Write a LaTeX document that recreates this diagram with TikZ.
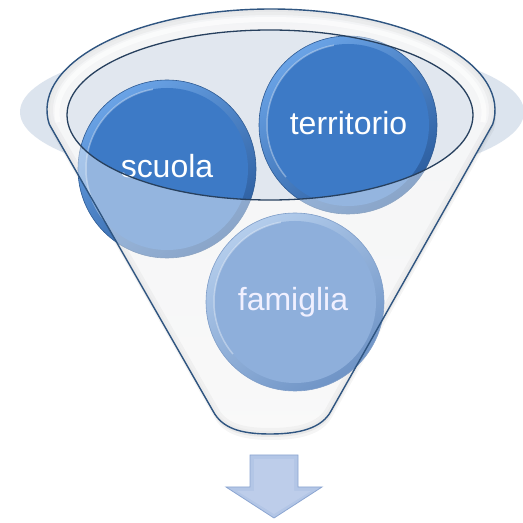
\documentclass[tikz,border=0pt]{standalone}
\usepackage{fontspec}
\setmainfont{Liberation Sans}
\definecolor{bgc}{HTML}{DCE4EE}
\definecolor{innerc}{HTML}{E1E7EF}
\definecolor{funtop}{HTML}{EAECEF}
\definecolor{funbot}{HTML}{F5F5F5}
\definecolor{bluelight}{HTML}{6AA3E6}
\definecolor{bluedark}{HTML}{2A5C9E}
\definecolor{bluemain}{HTML}{3D7AC6}
\definecolor{blueedge}{HTML}{2D5A93}
\definecolor{palelight}{HTML}{B4CDEC}
\definecolor{paledark}{HTML}{6F94C6}
\definecolor{palemain}{HTML}{8EAFDB}
\definecolor{paleedge}{HTML}{7E9DC8}
\definecolor{outline}{HTML}{2F5581}
\definecolor{inline}{HTML}{27405E}
\definecolor{arrowfill}{HTML}{B3C6E6}
\definecolor{arrowin}{HTML}{BDCDEA}
\definecolor{arrowedge}{HTML}{8CA6D2}
\tikzset{
  bubble/.style={circle, inner sep=0pt, minimum size=178pt, draw=blueedge, line width=0.6pt,
    shading=axis, top color=bluelight, bottom color=bluedark, shading angle=35,
    path picture={\fill[bluemain] (path picture bounding box.center) circle (81pt);
      \draw[white, opacity=0.35, line width=1.5pt] (path picture bounding box.center) ++(100:81pt) arc[start angle=100, end angle=220, radius=81pt];}},
  palebubble/.style={circle, inner sep=0pt, minimum size=178pt, draw=paleedge, line width=0.6pt,
    shading=axis, top color=palelight, bottom color=paledark, shading angle=35,
    path picture={\fill[palemain] (path picture bounding box.center) circle (81pt);
      \draw[white, opacity=0.35, line width=1.5pt] (path picture bounding box.center) ++(100:81pt) arc[start angle=100, end angle=220, radius=81pt];}},
  label/.style={text=white, font=\fontsize{32}{32}\selectfont, anchor=base, inner sep=0pt},
  funline/.style={draw=outline, line width=1.4pt},
  rimline/.style={draw=inline, line width=1.3pt}
}
\def\silh{(49.18,398.94) arc[start angle=188, end angle=-8, x radius=224, y radius=101] -- (331,112) .. controls (322,95) and (300,89) .. (270,89) .. controls (240,89) and (222,95) .. (213,112) -- cycle}
\begin{document}
\begin{tikzpicture}[x=1pt,y=1pt]
\useasboundingbox (0,0) rectangle (523,523);
\clip (0,0) rectangle (523,523);
\fill[white] (0,0) rectangle (523,523);
% background halo
\fill[bgc] (272,411) ellipse [x radius=252, y radius=72];
% soft shadow of the funnel
\begin{scope}[shift={(1,-6)}]
  \fill[black, opacity=0.04] \silh;
\end{scope}
\begin{scope}[shift={(0.5,-3)}]
  \fill[black, opacity=0.05] \silh;
\end{scope}
% funnel back
\fill[top color=funtop, bottom color=funbot] \silh;
\begin{scope}
  \clip \silh;
  \path[draw=black, draw opacity=0.06, line width=12pt] \silh;
  \path[draw=black, draw opacity=0.04, line width=6pt] \silh;
\end{scope}
\fill[innerc] (270,408) ellipse [x radius=203, y radius=85];
% bubbles
\node[bubble] (scuola) at (167,354) {};
\node[bubble] (territorio) at (348,398) {};
\node[label] (tscuola) at (167,345) {scuola};
\node[label] (tterritorio) at (348.5,388) {territorio};
% funnel front veil
\fill[white, opacity=0.45, even odd rule] \silh (270,408) ellipse [x radius=203, y radius=85];
% lower bubble, seen through the front
\node[palebubble] (famiglia) at (295,221) {};
\node[label, text=white!94!blue] (tfamiglia) at (293,212) {famiglia};
% rim highlight
\draw[white, line width=5pt, opacity=0.6] (270.5,410.5) ++(186:213.5 and 93) arc[start angle=186, end angle=-6, x radius=213.5, y radius=93];
% outlines
\path[funline] \silh;
\path[rimline] (270,408) ellipse [x radius=203, y radius=85];
% arrow
\filldraw[fill=arrowfill, draw=arrowedge, line width=0.8pt] (250,68) -- (298,68) -- (298,36) -- (322,36) -- (274,5) -- (226,36) -- (250,36) -- cycle;
\fill[arrowin] (254,64) -- (294,64) -- (294,32) -- (311,32) -- (274,9) -- (237,32) -- (254,32) -- cycle;
\end{tikzpicture}
\end{document}
